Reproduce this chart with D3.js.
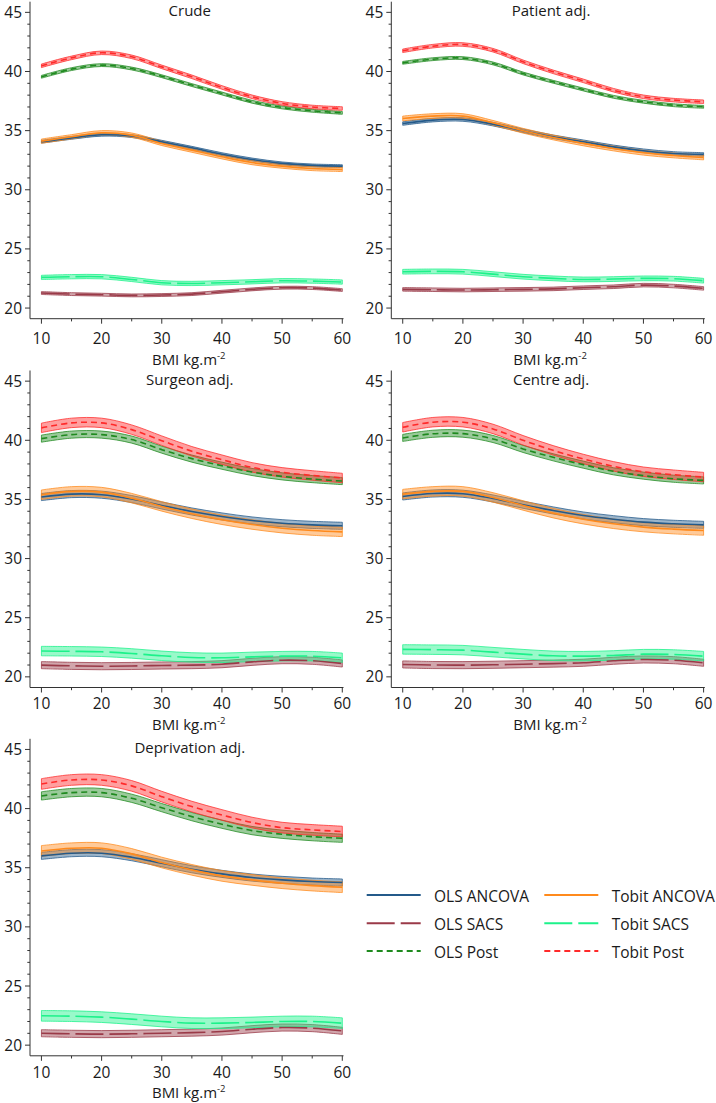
<!DOCTYPE html>
<html><head><meta charset="utf-8">
<script src="https://cdn.jsdelivr.net/npm/d3@7"></script>
<style>body{margin:0;background:#fff}svg{display:block}text{font-family:"Open Sans",sans-serif;fill:#1a1a1a}</style>
</head><body><svg id="c" width="716" height="1103"></svg>
<script>
const bmi = [10,15,20,25,30,35,40,45,50,55,60];
const xTicks = [10,20,30,40,50,60];
const yTicks = [20,25,30,35,40,45];
const panels = ["Crude","Patient adj.","Surgeon adj.","Centre adj.","Deprivation adj."];
const seriesNames = ["OLS ANCOVA","OLS SACS","OLS Post","Tobit ANCOVA","Tobit SACS","Tobit Post"];
const seriesColors = ["#245a8a","#9a3a48","#1f8a1f","#ff8a1c","#1cf28a","#ff2a2a"];
const seriesDash = [null,"28,6","6,4",null,"28,6","6,4"];
// values per panel (Crude, Patient, Surgeon, Centre, Deprivation)
const olsAncova = [
 [34.06,34.39,34.65,34.54,34.06,33.55,33.01,32.56,32.23,32.06,32.0],
 [35.6,35.89,35.94,35.55,34.99,34.48,34.06,33.63,33.3,33.07,32.99],
 [35.2,35.45,35.4,35.03,34.49,33.98,33.56,33.22,32.99,32.85,32.77],
 [35.25,35.5,35.48,35.08,34.55,34.07,33.64,33.33,33.08,32.94,32.85],
 [36.0,36.23,36.23,35.89,35.38,34.87,34.48,34.17,33.97,33.83,33.75]];
const olsSacs = [
 [21.27,21.18,21.13,21.07,21.1,21.18,21.38,21.58,21.72,21.69,21.52],
 [21.58,21.55,21.52,21.55,21.58,21.62,21.72,21.8,21.94,21.86,21.66],
 [20.99,20.93,20.9,20.92,20.96,20.99,21.07,21.27,21.41,21.36,21.13],
 [21.05,21.0,20.99,21.02,21.07,21.12,21.19,21.36,21.47,21.41,21.19],
 [21.01,20.96,20.93,20.96,21.01,21.06,21.15,21.35,21.49,21.44,21.21]];
const olsPost = [
 [39.55,40.2,40.54,40.25,39.6,38.85,38.14,37.44,36.96,36.68,36.5],
 [40.73,41.04,41.13,40.68,39.83,39.13,38.48,37.86,37.44,37.15,37.01],
 [40.14,40.48,40.48,40.06,39.21,38.45,37.85,37.32,36.95,36.72,36.55],
 [40.2,40.55,40.56,40.11,39.27,38.56,37.94,37.38,37.01,36.75,36.61],
 [41.07,41.35,41.35,40.87,40.08,39.32,38.68,38.14,37.83,37.63,37.49]];
const tobitAncova = [
 [34.11,34.48,34.82,34.62,33.92,33.35,32.79,32.3,32.0,31.8,31.72],
 [36.03,36.23,36.23,35.66,34.99,34.42,33.92,33.49,33.13,32.9,32.73],
 [35.4,35.68,35.62,35.11,34.41,33.79,33.28,32.88,32.57,32.37,32.26],
 [35.45,35.68,35.68,35.17,34.49,33.84,33.33,32.94,32.66,32.49,32.37],
 [36.42,36.65,36.65,36.17,35.44,34.82,34.31,33.97,33.69,33.49,33.35]];
const tobitSacs = [
 [22.59,22.65,22.65,22.42,22.14,22.08,22.14,22.22,22.31,22.28,22.2],
 [23.07,23.1,23.07,22.87,22.65,22.51,22.42,22.45,22.51,22.48,22.31],
 [22.18,22.16,22.12,21.98,21.78,21.64,21.61,21.69,21.75,21.75,21.61],
 [22.32,22.3,22.26,22.09,21.92,21.78,21.75,21.81,21.92,21.89,21.75],
 [22.48,22.45,22.37,22.2,22.0,21.86,21.86,21.92,22.0,22.0,21.86]];
const tobitPost = [
 [40.48,41.15,41.58,41.24,40.39,39.55,38.65,37.86,37.3,37.0,36.87],
 [41.75,42.14,42.28,41.8,40.82,39.97,39.21,38.42,37.86,37.58,37.44],
 [41.05,41.47,41.47,40.9,39.97,39.07,38.36,37.71,37.29,37.03,36.81],
 [41.1,41.53,41.53,40.96,40.0,39.15,38.42,37.8,37.34,37.09,36.89],
 [42.08,42.42,42.42,41.92,41.01,40.17,39.46,38.82,38.39,38.2,38.06]];
// confidence band half-width per panel, per series
const ciHalfWidth = [
 [0.12,0.12,0.12,0.18,0.18,0.15],
 [0.15,0.15,0.12,0.2,0.2,0.15],
 [0.3,0.3,0.3,0.4,0.4,0.4],
 [0.3,0.3,0.3,0.4,0.4,0.4],
 [0.3,0.3,0.35,0.45,0.45,0.45]];
const allSeries = [olsAncova, olsSacs, olsPost, tobitAncova, tobitSacs, tobitPost];

const svg = d3.select("#c");
const colLeft = [30, 391.3], plotW = 313.5, plotH = 317;
const rowTop = [1.7, 370.5, 738.8];
const tickLabelOff = [25.5, 21.8, 21.8], axisTitleOff = [46.5, 42.5, 42.5];

panels.forEach((name, p) => {
  const r = Math.floor(p/2), c = p%2;
  const g = svg.append("g").attr("transform", `translate(${colLeft[c]},${rowTop[r]})`);
  const x = d3.scaleLinear().domain([8.1, 60.2]).range([0, plotW]);
  const y = d3.scaleLinear().domain([19.1, 45.9]).range([plotH, 0]);
  // axes
  g.append("line").attr("x1",0).attr("x2",0).attr("y1",0).attr("y2",plotH).attr("stroke","#333");
  g.append("line").attr("x1",0).attr("x2",plotW).attr("y1",plotH).attr("y2",plotH).attr("stroke","#333");
  d3.range(20,46,1).forEach(v => {
    const major = v%5===0;
    g.append("line").attr("x1",0).attr("x2",major?-5:-2.7).attr("y1",y(v)).attr("y2",y(v)).attr("stroke","#333");
  });
  yTicks.forEach(v => g.append("text").attr("x",-8).attr("y",y(v)).attr("dy","0.36em")
     .attr("text-anchor","end").attr("font-size",15.5).text(v));
  d3.range(10,61,5).forEach(v => {
    const major = v%10===0;
    g.append("line").attr("x1",x(v)).attr("x2",x(v)).attr("y1",plotH).attr("y2",plotH+(major?5:2.7)).attr("stroke","#333");
  });
  xTicks.forEach(v => g.append("text").attr("x",x(v)).attr("y",plotH+tickLabelOff[r])
     .attr("text-anchor","middle").attr("font-size",15.5).text(v));
  const t = g.append("text").attr("x",plotW/2+2).attr("y",plotH+axisTitleOff[r]).attr("text-anchor","middle").attr("font-size",15);
  t.append("tspan").text("BMI kg.m");
  t.append("tspan").attr("dy",-6).attr("font-size",9.5).text("-2");
  g.append("text").attr("x",plotW/2+3).attr("y",14.5).attr("text-anchor","middle").attr("font-size",15).text(name);

  const area = d3.area().x(d=>x(d.x)).y0(d=>y(d.lo)).y1(d=>y(d.hi)).curve(d3.curveCatmullRom);
  const line = d3.line().x(d=>x(d.x)).y(d=>y(d.v)).curve(d3.curveCatmullRom);
  allSeries.forEach((s, k) => {
    const hw = ciHalfWidth[p][k];
    const pts = bmi.map((b,i)=>({x:b, v:s[p][i], lo:s[p][i]-hw, hi:s[p][i]+hw}));
    g.append("path").attr("d",area(pts)).attr("fill",seriesColors[k]).attr("fill-opacity",0.45)
      .attr("stroke",seriesColors[k]).attr("stroke-width",0.9).attr("stroke-opacity",0.85);
  });
  allSeries.forEach((s, k) => {
    const pts = bmi.map((b,i)=>({x:b, v:s[p][i]}));
    g.append("path").attr("d",line(pts)).attr("fill","none").attr("stroke",seriesColors[k])
      .attr("stroke-width",1.6).attr("stroke-dasharray",seriesDash[k]);
  });
});

// legend
const legX = [366.7, 544.3], legTextX = [434, 611.7], legY = [895, 923.3, 951];
seriesNames.forEach((n, k) => {
  const c = Math.floor(k/3), r = k%3;
  svg.append("line").attr("x1",legX[c]).attr("x2",legX[c]+54).attr("y1",legY[r]).attr("y2",legY[r])
    .attr("stroke",seriesColors[k]).attr("stroke-width",2).attr("stroke-dasharray",seriesDash[k]);
  svg.append("text").attr("x",legTextX[c]).attr("y",legY[r]+6.5).attr("font-size",15.5).text(n);
});
</script></body></html>
